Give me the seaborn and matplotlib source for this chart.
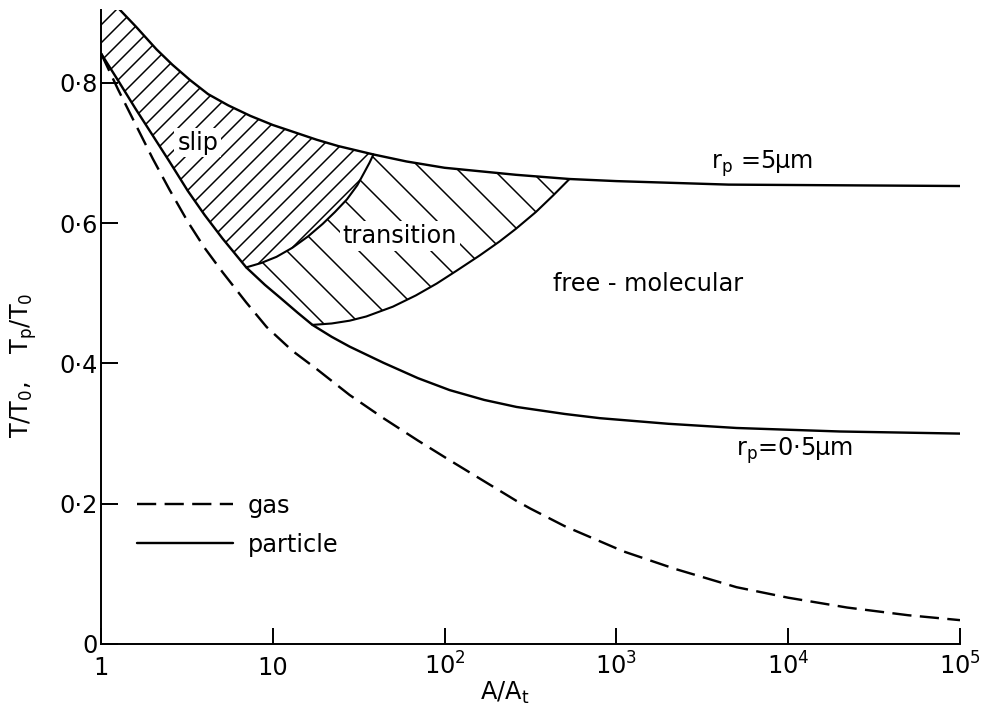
import numpy as np
import pandas as pd
import seaborn as sns
import matplotlib.pyplot as plt
import matplotlib.ticker as ticker

# --- data (x = A/At, y = T/T0 or Tp/T0) ---
gas_x = [1, 1.26, 1.58, 2.0, 2.5, 3.2, 4.0, 5.1, 7.0, 9.2, 13, 18, 28, 44, 70, 107, 170, 262,
         316, 500, 1100, 2200, 5000, 1e4, 22000, 5e4, 1e5]
gas_y = [0.842, 0.790, 0.742, 0.692, 0.648, 0.602, 0.565, 0.530, 0.487, 0.452, 0.418, 0.392,
         0.355, 0.322, 0.290, 0.262, 0.232, 0.204, 0.193, 0.168, 0.132, 0.107, 0.081, 0.066,
         0.052, 0.041, 0.034]

# particle, rp = 5 um
big_x = [1, 1.29, 1.6, 2.1, 2.6, 3.3, 4.2, 5.5, 7.4, 10, 14, 18, 24, 38.5, 60, 100, 260, 533,
         1000, 4500, 1e5]
big_y = [0.935, 0.904, 0.880, 0.848, 0.826, 0.804, 0.784, 0.768, 0.753, 0.740, 0.728, 0.719,
         0.710, 0.698, 0.688, 0.679, 0.669, 0.663, 0.660, 0.655, 0.653]

# particle, rp = 0.5 um
small_x = [1, 1.26, 1.58, 2.0, 2.5, 3.2, 4.0, 5.1, 6.0, 7.0, 9, 11, 14, 17, 22, 28, 44, 70,
           107, 170, 262, 500, 800, 2000, 5000, 2e4, 1e5]
small_y = [0.842, 0.803, 0.764, 0.725, 0.688, 0.646, 0.612, 0.578, 0.557, 0.537, 0.512, 0.494,
           0.472, 0.455, 0.438, 0.424, 0.401, 0.379, 0.362, 0.348, 0.338, 0.328, 0.322, 0.314,
           0.308, 0.303, 0.300]

# regime boundaries
slip_trans_x = [7.0, 8.5, 10.5, 13, 16, 19.5, 23, 27, 31, 34, 36.5, 38.5]
slip_trans_y = [0.537, 0.543, 0.552, 0.565, 0.581, 0.599, 0.616, 0.634, 0.654, 0.672, 0.686, 0.698]

trans_free_x = [17, 22, 28, 35, 50, 68, 90, 117, 160, 209, 260, 340, 430, 533]
trans_free_y = [0.455, 0.457, 0.461, 0.467, 0.481, 0.497, 0.514, 0.532, 0.554, 0.574, 0.592,
                0.616, 0.640, 0.663]

y_ticks = [0, 0.2, 0.4, 0.6, 0.8]
y_labels = ['0', '0·2', '0·4', '0·6', '0·8']
x_ticks = [1, 10, 1e2, 1e3, 1e4, 1e5]
x_labels = ['1', '10', r'$\mathregular{10^2}$', r'$\mathregular{10^3}$',
            r'$\mathregular{10^4}$', r'$\mathregular{10^5}$']

# --- build regime polygons from the curves ---
bx, by = np.array(big_x), np.array(big_y)
sx, sy = np.array(small_x), np.array(small_y)
stx, sty = np.array(slip_trans_x), np.array(slip_trans_y)
tfx, tfy = np.array(trans_free_x), np.array(trans_free_y)

m_top = bx < stx[-1]
m_low = sx < stx[0]
slip_px = np.concatenate([bx[m_top], stx[::-1], sx[m_low][::-1]])
slip_py = np.concatenate([by[m_top], sty[::-1], sy[m_low][::-1]])

m_top2 = (bx > stx[-1]) & (bx < tfx[-1])
m_low2 = (sx > stx[0]) & (sx < tfx[0])
tr_px = np.concatenate([stx, bx[m_top2], tfx[::-1], sx[m_low2][::-1]])
tr_py = np.concatenate([sty, by[m_top2], tfy[::-1], sy[m_low2][::-1]])

# --- plot ---
sns.set_style('ticks')
plt.rcParams['font.family'] = ['DejaVu Sans']
plt.rcParams['hatch.linewidth'] = 1.0
plt.rcParams['axes.linewidth'] = 1.3
for key in ('text.color', 'axes.labelcolor', 'xtick.color', 'ytick.color', 'axes.edgecolor'):
    plt.rcParams[key] = 'black'

DPI = 108
fig = plt.figure(figsize=(981 / DPI, 708 / DPI), dpi=DPI)
ax = fig.add_axes([0.103, 0.0904, 0.8756, 0.8955])

ax.fill(slip_px, slip_py, facecolor='none', edgecolor='black', hatch='//', lw=0, zorder=1)
ax.fill(tr_px, tr_py, facecolor='none', edgecolor='black', hatch='\\', lw=0, zorder=1)

sns.lineplot(x=gas_x, y=gas_y, ax=ax, color='black', lw=1.6, estimator=None,
             linestyle=(0, (8, 3.5)), label='gas')
sns.lineplot(x=small_x, y=small_y, ax=ax, color='black', lw=1.6, estimator=None, label='particle')
sns.lineplot(x=big_x, y=big_y, ax=ax, color='black', lw=1.6, estimator=None)
sns.lineplot(x=slip_trans_x, y=slip_trans_y, ax=ax, color='black', lw=1.4, estimator=None)
sns.lineplot(x=trans_free_x, y=trans_free_y, ax=ax, color='black', lw=1.4, estimator=None)

ax.set_xscale('log')
ax.set_xlim(1, 1e5)
ax.set_ylim(0, 0.904)
ax.xaxis.set_major_locator(ticker.FixedLocator(x_ticks))
ax.xaxis.set_minor_locator(ticker.NullLocator())
ax.set_xticklabels(x_labels)
ax.set_yticks(y_ticks)
ax.set_yticklabels(y_labels)
ax.tick_params(axis='y', direction='in', length=11, width=1.3, pad=2, labelsize=16)
ax.tick_params(axis='x', direction='in', length=10.5, width=1.3, pad=20.5, labelsize=16)
for lbl in ax.get_xticklabels():
    lbl.set_verticalalignment('baseline')
sns.despine(ax=ax)

ax.set_xlabel(r'$\mathregular{A/A_t}$', fontsize=16)
ax.xaxis.set_label_coords(0.470, -0.057)
ax.set_ylabel(r'$\mathregular{T/T_0,\ \ \ T_p/T_0}$', fontsize=16)
ax.yaxis.set_label_coords(-0.072, 0.44)

# regime and size annotations (white box breaks the hatching, as in the drawing)
gap = dict(facecolor='white', edgecolor='none', pad=2)
ax.text(3.66, 0.705, 'slip', fontsize=16, ha='center', va='baseline', bbox=gap, zorder=1.5)
ax.text(54.7, 0.572, 'transition', fontsize=16, ha='center', va='baseline', bbox=gap, zorder=1.5)
ax.text(1535, 0.504, 'free - molecular', fontsize=16, ha='center', va='baseline')
ax.text(7060, 0.678, r'$\mathregular{r_p}$ =5µm', fontsize=16, ha='center', va='baseline')
ax.text(10840, 0.268, r'$\mathregular{r_p}$=0·5µm', fontsize=16, ha='center', va='baseline')

ax.legend(loc='upper left', bbox_to_anchor=(0.0419, 0.237), frameon=False, fontsize=16,
          handlelength=4.0, handletextpad=0.62, labelspacing=0.63, borderpad=0, borderaxespad=0)

fig.savefig('out.png', dpi=DPI)
